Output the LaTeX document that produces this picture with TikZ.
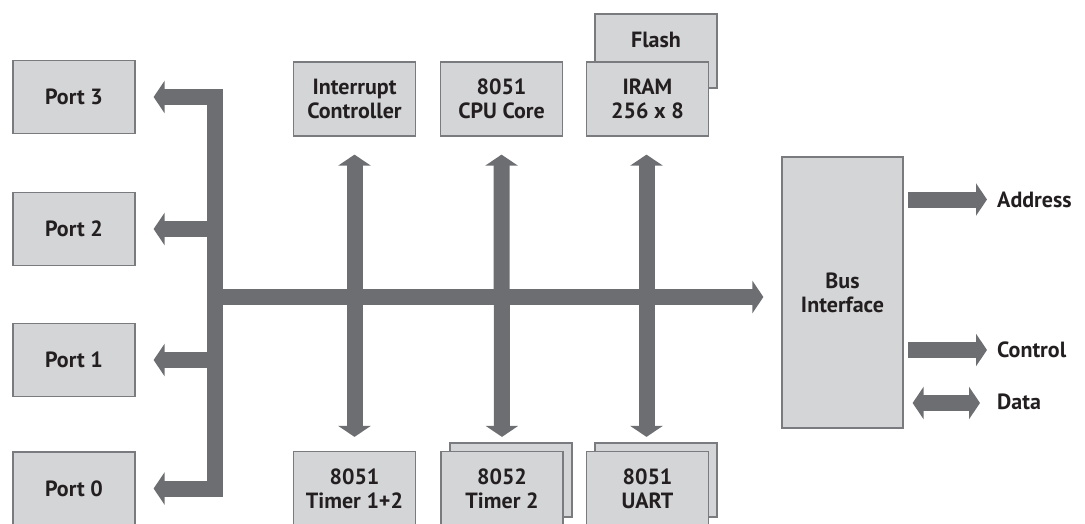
\documentclass[tikz,border=0pt]{standalone}
\usepackage{fontspec}
\setmainfont{PT Sans}
\usetikzlibrary{arrows.meta,calc}
\definecolor{boxgray}{HTML}{D4D5D7}
\definecolor{edgegray}{HTML}{7A7B7E}
\definecolor{busgray}{HTML}{6D6E71}
\definecolor{txt}{HTML}{231F20}
\tikzset{
  box/.style={draw=edgegray, line width=1.2pt, fill=boxgray, minimum width=122pt,
    minimum height=74pt, inner sep=0pt, align=center, text=txt,
    font=\fontsize{22}{24}\selectfont\bfseries},
  lbl/.style={inner sep=0pt, anchor=west, text=txt, font=\fontsize{22}{24}\selectfont\bfseries},
  bus/.style={draw=busgray, line width=16pt},
  tipR/.style={-{Triangle[length=11pt 0 0, width=32pt 0 0]}},
  tipB/.style={{Triangle[length=11pt 0 0, width=32pt 0 0]}-{Triangle[length=11pt 0 0, width=32pt 0 0]}}
}
\begin{document}
\begin{tikzpicture}[x=1pt,y=-1pt]
\useasboundingbox (0,0) rectangle (1085,523);
\clip (0,0) rectangle (1085,523);

% ports
\node[box, minimum height=73pt] (p3) at (74,97) {Port 3};
\node[box, minimum height=73pt] (p2) at (74,229) {Port 2};
\node[box, minimum height=73pt] (p1) at (74,360) {Port 1};
\node[box, minimum height=73pt] (p0) at (74,488.5) {Port 0};

% top row
\node[box] (ic) at (354.5,99) {Interrupt\\Controller};
\node[box] (cpu) at (501.5,99) {8051\\CPU Core};
\node[box] (flash) at (656,51) {};
\node[lbl, anchor=center] (flashtxt) at (656,40) {Flash};
\node[box] (iram) at (647.5,99) {IRAM\\256 x 8};

% bottom row
\node[box] (t12) at (354.5,488.5) {8051\\Timer 1+2};
\node[box] (t2b) at (511,480) {};
\node[box] (t2) at (502,488.5) {8052\\Timer 2};
\node[box] (uartb) at (656,480) {};
\node[box] (uart) at (647.5,488.5) {8051\\UART};

% bus interface
\node[box, minimum width=121pt, minimum height=271pt] (bi) at (842.5,292.5) {Bus\\Interface};

% output labels
\node[lbl] (addr) at (997,199.5) {Address};
\node[lbl] (ctrl) at (997,350) {Control};
\node[lbl] (data) at (997,402) {Data};

% bus coordinates
\coordinate (btop) at (214.5,89);
\coordinate (bbot) at (214.5,496.5);
\coordinate (b3) at (222.5,97);
\coordinate (b2) at (222.5,229);
\coordinate (b1) at (222.5,360);
\coordinate (b0) at (222.5,488.5);
\coordinate (bm) at (214.5,297);

% vertical bus
\draw[bus] (btop) -- (bbot);
% port arrows
\draw[bus, tipR, shorten >=18pt] (b3) -- (b3 -| p3.east);
\draw[bus, tipR, shorten >=18pt] (b2) -- (b2 -| p2.east);
\draw[bus, tipR, shorten >=18pt] (b1) -- (b1 -| p1.east);
\draw[bus, tipR, shorten >=18pt] (b0) -- (b0 -| p0.east);
% main bus
\draw[bus, tipR, shorten >=18pt] (bm) -- (bm -| bi.west);
% vertical double arrows
\draw[bus, tipB, shorten <=18pt, shorten >=14pt] (ic.south) -- (t12.north);
\draw[bus, tipB, shorten <=18pt, shorten >=14pt] (cpu.south) -- (t2.north);
\draw[bus, tipB, shorten <=18pt, shorten >=14pt] ([xshift=-1pt]iram.south) -- ([xshift=-1pt]uart.north);
% outputs
\draw[bus, tipR, shorten <=4pt, shorten >=10pt] (addr.west -| bi.east) -- (addr.west);
\draw[bus, tipR, shorten <=4pt, shorten >=10pt] (ctrl.west -| bi.east) -- (ctrl.west);
\draw[bus, tipB, shorten <=9pt, shorten >=17pt] ([yshift=-1pt]data.west -| bi.east) -- ([yshift=-1pt]data.west);
\end{tikzpicture}
\end{document}
